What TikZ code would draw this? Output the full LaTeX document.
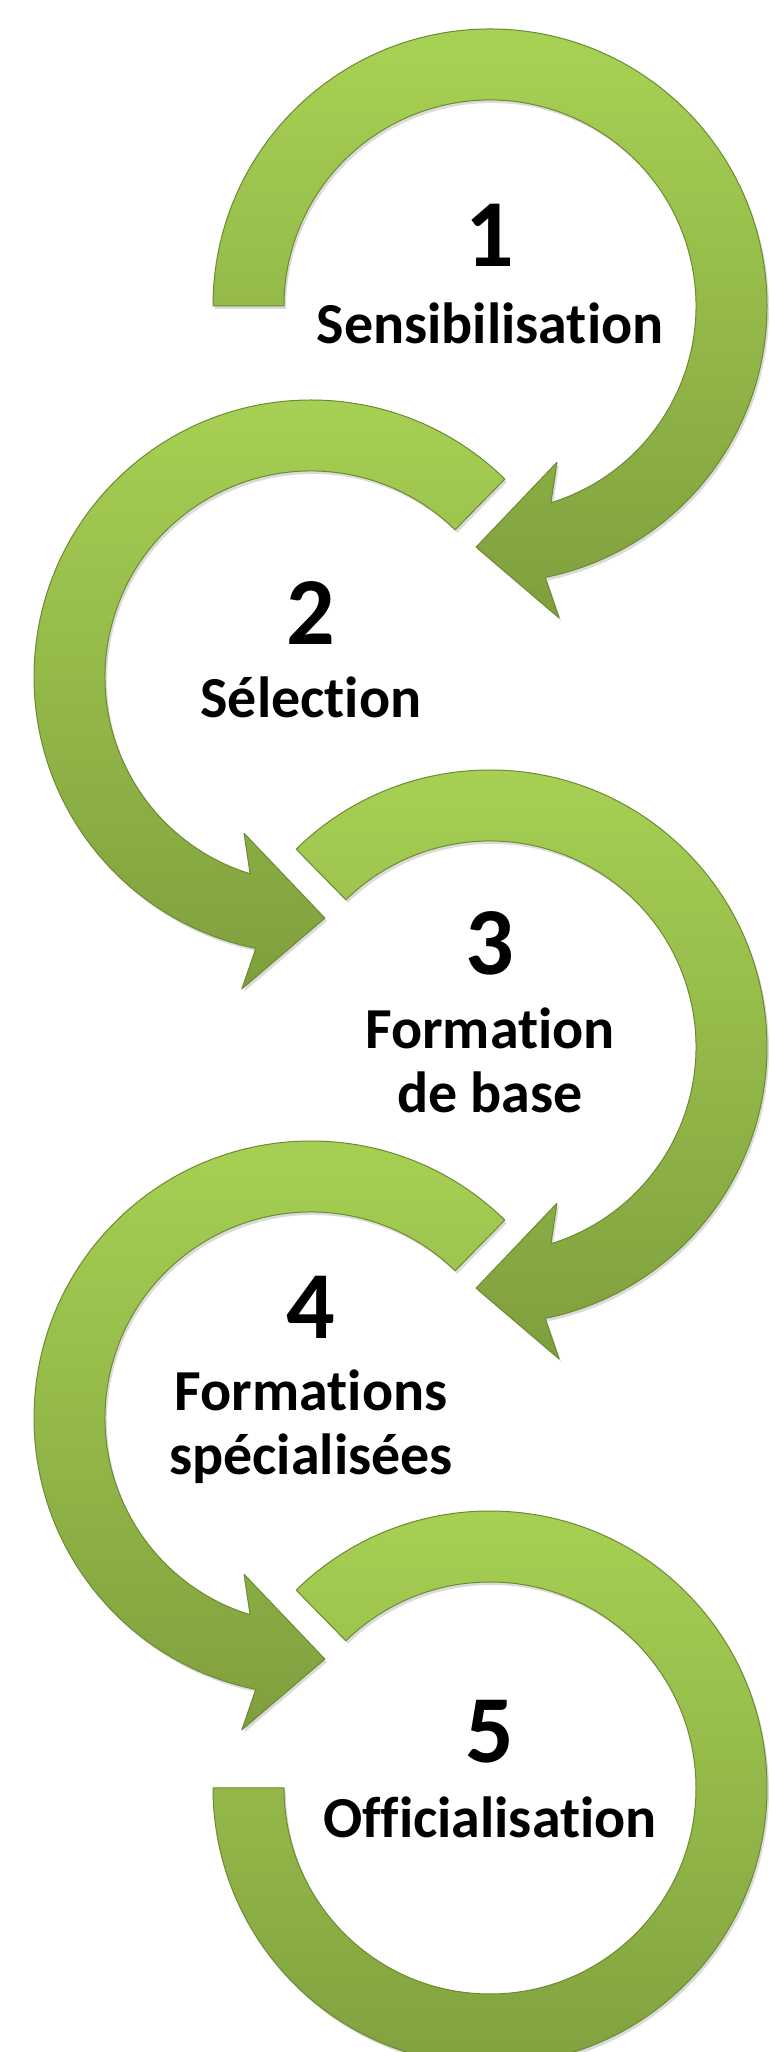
\documentclass[tikz,border=0pt]{standalone}
\usepackage{fontspec}
\setmainfont{Carlito}[Ligatures=NoCommon]
\usepackage{tikz}
\usetikzlibrary{positioning, calc}
\definecolor{ringlight}{HTML}{A8D254}
\definecolor{ringdark}{HTML}{7F9F3E}
\definecolor{ringedge}{HTML}{6C8B31}
\tikzstyle{ring} = [top color=ringlight, bottom color=ringdark, draw=ringedge, line width=0.5pt, line join=round]
\tikzstyle{ringshadow} = [fill=black, opacity=0.14, draw=none]
\tikzstyle{stepnum} = [font=\bfseries\fontsize{48}{48}\selectfont, anchor=base, inner sep=0pt]
\tikzstyle{steptext} = [font=\bfseries\fontsize{29}{32}\selectfont, anchor=base, align=center, inner sep=0pt]
% clockwise ring with head: centre, start angle, style
\newcommand{\ringcw}[3]{%
  \path[#3] ($(#1)+(#2:277)$) arc[start angle=#2, end angle=-78.5, radius=277]
    -- ($(#1)+(-77.5:319.5)$) -- ($(#1)+(-93.3:241.5)$) -- ($(#1)+(-66.8:170)$)
    -- ($(#1)+(-72.8:206)$) arc[start angle=-72.8, end angle=#2, radius=206] -- cycle;}
% anticlockwise ring with head
\newcommand{\ringccw}[3]{%
  \path[#3] ($(#1)+(#2:277)$) arc[start angle=#2, end angle=258.5, radius=277]
    -- ($(#1)+(257.5:319.5)$) -- ($(#1)+(273.3:241.5)$) -- ($(#1)+(246.8:170)$)
    -- ($(#1)+(252.8:206)$) arc[start angle=252.8, end angle=#2, radius=206] -- cycle;}

\begin{document}
\begin{tikzpicture}[x=1pt, y=1pt, scale=0.5]
    \useasboundingbox (0,0) rectangle (770,2052);
    \coordinate (ring1) at (490,1746);
    \coordinate (ring2) at (311,1375);
    \coordinate (ring3) at (490,1005);
    \coordinate (ring4) at (311,634);
    \coordinate (ring5) at (490,264);

    % shadows
    \begin{scope}[transform canvas={xshift=1pt, yshift=-1.5pt}]
        \ringcw{ring1}{180}{ringshadow}
        \ringccw{ring2}{45.6}{ringshadow}
        \ringcw{ring3}{134.4}{ringshadow}
        \ringccw{ring4}{45.6}{ringshadow}
        \path[ringshadow] ($(ring5)+(134.4:277)$) arc[start angle=134.4, end angle=-180, radius=277]
            -- ($(ring5)+(-180:206)$) arc[start angle=-180, end angle=134.4, radius=206] -- cycle;
    \end{scope}

    % rings
    \ringcw{ring1}{180}{ring}
    \ringccw{ring2}{45.6}{ring}
    \ringcw{ring3}{134.4}{ring}
    \ringccw{ring4}{45.6}{ring}
    \path[ring] ($(ring5)+(134.4:277)$) arc[start angle=134.4, end angle=-180, radius=277]
        -- ($(ring5)+(-180:206)$) arc[start angle=-180, end angle=134.4, radius=206] -- cycle;

    % texts
    \node[stepnum]  (num1) at ($(ring1)+(0,39)$)   {1};
    \node[steptext] (txt1) at ($(ring1)+(0,-38)$)  {Sensibilisation};
    \node[stepnum]  (num2) at ($(ring2)+(0,32)$)   {2};
    \node[steptext] (txt2) at ($(ring2)+(0,-41)$)  {Sélection};
    \node[stepnum]  (num3) at ($(ring3)+(0,72)$)   {3};
    \node[steptext] (txt3) at ($(ring3)+(0,-66)$)  {Formation\\de base};
    \node[stepnum]  (num4) at ($(ring4)+(0,79)$)   {4};
    \node[steptext] (txt4) at ($(ring4)+(0,-57)$)  {Formations\\spécialisées};
    \node[stepnum]  (num5) at ($(ring5)+(0,25)$)   {5};
    \node[steptext] (txt5) at ($(ring5)+(0,-50)$)  {Officialisation};
\end{tikzpicture}
\end{document}
